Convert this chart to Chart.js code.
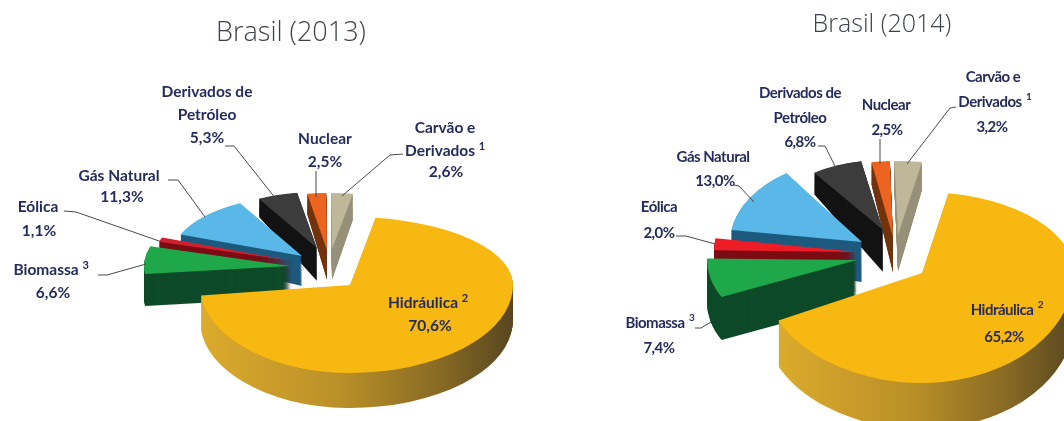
<!DOCTYPE html>
<html lang="pt">
<head>
<meta charset="utf-8">
<title>Brasil 2013 / 2014</title>
<script src="https://cdn.jsdelivr.net/npm/chart.js@4"></script>
<style>
html,body{margin:0;padding:0;background:#fff;overflow:hidden;}
#wrap{position:relative;width:1064px;height:421px;}
canvas{position:absolute;top:0;}
#pie2013{left:0;}
#pie2014{left:532px;}
</style>
</head>
<body>
<div id="wrap">
<canvas id="pie2013" width="532" height="421"></canvas>
<canvas id="pie2014" width="532" height="421"></canvas>
</div>
<script>
//======================================
// Data
//======================================

const categories=["Hidráulica","Biomassa","Eólica","Gás Natural","Derivados de Petróleo","Nuclear","Carvão e Derivados"];
const values2013=[70.6,6.6,1.1,11.3,5.3,2.5,2.6];
const values2014=[65.2,7.4,2.0,13.0,6.8,2.5,3.2];

// label lines and footnote marks, same order as categories
const labelLines=[["Hidráulica"],["Biomassa"],["Eólica"],["Gás Natural"],["Derivados de","Petróleo"],["Nuclear"],["Carvão e","Derivados"]];
const footnotes=["2","3","","","","","1"];

const topColors2013=["#f8b812","#1fa84a","#d0202e","#5ab8e8","#3c3c3c","#ec6420","#bfb799"];
const topColors2014=["#f8b812","#1fa84a","#ee1c26","#5ab8e8","#3c3c3c","#ec6420","#bfb799"];
const wallColors=["#b98f28","#0e4a29","#7c0c14","#1d5a7e","#121212","#73340f","#97917a"];

//======================================
// Layout of each pie (pixels in its own canvas)
//======================================

const layout2013={
    title:"Brasil (2013)",titleX:291,titleY:33,titleSize:27,
    labelFont:"bold 15.5px Lato",labelSpacing:"0px",noteFont:"bold 11px Lato",
    rotation:9,
    apexX:[350,290,293,302,317,327,332],
    apexY:[285,266,261,256,248,250,249],
    rxLeft:[150,146,140,130,122,122,134],
    rxRight:[163,146,140,130,122,122,134],
    ryUp:[68,68,66,60,56,57,56],
    ryDown:[88,67,66,60,56,57,56],
    depth:[35,32,30,30,33,30,31],
    rim:[35,32,10,9,16,20,26],
    wallFrom:202,wallTo:513,
    labelX:[[423],[46],[38],[119],[207,207],[325],[445,440]],
    labelY:[[303],[270],[207],[176],[92,115],[139],[128,151]],
    valueX:[430,53,39,122,207,325,446],
    valueY:[326,293,231,197,138,162,172],
    leaders:[
        null,
        [[98,275],[107,275],[146,264]],
        [[64,211],[76,212],[162,242]],
        [[168,180],[178,180],[205,217]],
        [[225,146],[234,146],[276,199]],
        [[316,171],[316,197]],
        [[403,154],[390,155],[342,196]]
    ],
    topColors:topColors2013
};

const layout2014={
    title:"Brasil (2014)",titleX:350,titleY:25,titleSize:25,
    labelFont:"bold 15px Lato",labelSpacing:"-0.5px",noteFont:"bold 10px Lato",
    rotation:10,
    apexX:[390,325,325,330,351,361,366],
    apexY:[273,260,252,242,230,237,235],
    rxLeft:[159,150,143,132,120,118,138],
    rxRight:[152,150,143,132,120,118,138],
    ryUp:[81,80,95,84,70,76,74],
    ryDown:[110,86,95,84,70,76,74],
    depth:[46,43,40,40,42,36,37],
    rim:[46,43,8,8,17,22,28],
    wallFrom:246,wallTo:545,
    labelX:[[470],[123],[127],[181],[268,268],[354],[461,458]],
    labelY:[[310],[323],[207],[157],[93,118],[105],[77,102]],
    valueX:[472,127,127,183,268,355,460],
    valueY:[337,348,233,181,142,130,127],
    leaders:[
        null,
        [[163,328],[169,328],[179,322]],
        [[144,236],[154,236],[183,244]],
        [[202,185],[207,186],[222,202]],
        [[286,146],[293,146],[304,168]],
        [[348,139],[348,164]],
        [[424,107],[418,108],[375,164]]
    ],
    topColors:topColors2014
};

//======================================
// Perspective faces
//======================================

// gradient along the front wall of the big slice
function hydroWall(ctx,arc,layout,ax,rx){

    const scale=rx/arc.outerRadius;
    const x0=arc.x+(layout.wallFrom-ax)/scale;
    const x1=arc.x+(layout.wallTo-ax)/scale;
    const grad=ctx.createLinearGradient(x0,0,x1,0);

    grad.addColorStop(0,"#dcab2c");
    grad.addColorStop(0.45,"#b98f28");
    grad.addColorStop(0.75,"#8a6c24");
    grad.addColorStop(1,"#574620");

    return grad;

}

// an arc is drawn once per quadrant around its apex, each quadrant with its own
// radii, which gives the egg shape of a pie seen in perspective
function drawFace(ctx,arc,index,layout,dy,grow,wall){

    const ax=layout.apexX[index];
    const ay=layout.apexY[index]+dy;
    const baseOptions=arc.options;

    [[layout.rxLeft[index],-2000],[layout.rxRight[index],0]].forEach(([rx,clipX])=>{

        [[layout.ryUp[index]+grow,-2000],[layout.ryDown[index],0]].forEach(([ry,clipY])=>{

            let fill=layout.topColors[index];

            if(wall){
                fill=index===0 ? hydroWall(ctx,arc,layout,ax,rx) : wallColors[index];
            }

            ctx.save();
            ctx.beginPath();
            ctx.rect(ax+clipX,ay+clipY,2000,2000);
            ctx.clip();
            ctx.translate(ax,ay);
            ctx.scale(rx/arc.outerRadius,ry/arc.outerRadius);
            ctx.translate(-arc.x,-arc.y);

            arc.options=Object.assign({},baseOptions,{backgroundColor:fill});
            arc.draw(ctx);
            arc.options=baseOptions;

            ctx.restore();

        });

    });

}

function valueText(v){

    return v.toFixed(1).replace(".",",")+"%";

}

const pie3d={

    id:"pie3d",

    // slices are painted back to front, walls first, so the default pass is skipped
    beforeDatasetDraw(chart){

        const ctx=chart.ctx;
        const layout=chart.options.plugins.pie3d.layout;
        const arcs=chart.getDatasetMeta(0).data;

        for(let i=arcs.length-1;i>=0;i--){

            const depth=layout.depth[i];
            const growth=depth-layout.rim[i];

            for(let d=depth;d>=1;d--){
                drawFace(ctx,arcs[i],i,layout,d,growth*d/depth,true);
            }

            drawFace(ctx,arcs[i],i,layout,0,0,false);

        }

        return false;

    },

    afterDraw(chart){

        const ctx=chart.ctx;
        const layout=chart.options.plugins.pie3d.layout;
        const values=chart.data.datasets[0].data;

        ctx.save();

        // title
        ctx.fillStyle="#3c4248";
        ctx.font="300 "+layout.titleSize+"px 'Open Sans'";
        ctx.textAlign="center";
        ctx.textBaseline="middle";
        ctx.fillText(layout.title,layout.titleX,layout.titleY);

        // leader lines
        ctx.strokeStyle="#454a50";
        ctx.lineWidth=1;
        layout.leaders.forEach((pts)=>{

            if(!pts){
                return;
            }

            ctx.beginPath();
            pts.forEach((p,n)=>{
                if(n===0){
                    ctx.moveTo(p[0],p[1]);
                }else{
                    ctx.lineTo(p[0],p[1]);
                }
            });
            ctx.stroke();

        });

        // labels
        ctx.fillStyle="#252c5c";
        ctx.font=layout.labelFont;
        ctx.letterSpacing=layout.labelSpacing;

        labelLines.forEach((lines,i)=>{

            lines.forEach((line,n)=>{

                const x=layout.labelX[i][n];
                const y=layout.labelY[i][n];

                ctx.fillText(line,x,y);

                if(n===lines.length-1 && footnotes[i]){
                    const w=ctx.measureText(line).width;
                    ctx.font=layout.noteFont;
                    ctx.fillText(footnotes[i],x+w/2+7,y-5);
                    ctx.font=layout.labelFont;
                }

            });

            ctx.fillText(valueText(values[i]),layout.valueX[i],layout.valueY[i]);

        });

        ctx.restore();

    }

};

//======================================
// Charts
//======================================

function buildPie(canvasId,values,layout){

    return new Chart(document.getElementById(canvasId),{

        type:"pie",

        data:{

            labels:categories,

            datasets:[{

                data:values,

                backgroundColor:layout.topColors,

                borderWidth:0,

                radius:100

            }]

        },

        options:{

            responsive:false,

            animation:false,

            rotation:layout.rotation,

            plugins:{

                legend:{display:false},

                tooltip:{enabled:false},

                pie3d:{layout:layout}

            }

        },

        plugins:[pie3d]

    });

}

buildPie("pie2013",values2013,layout2013);
buildPie("pie2014",values2014,layout2014);
</script>
</body>
</html>
